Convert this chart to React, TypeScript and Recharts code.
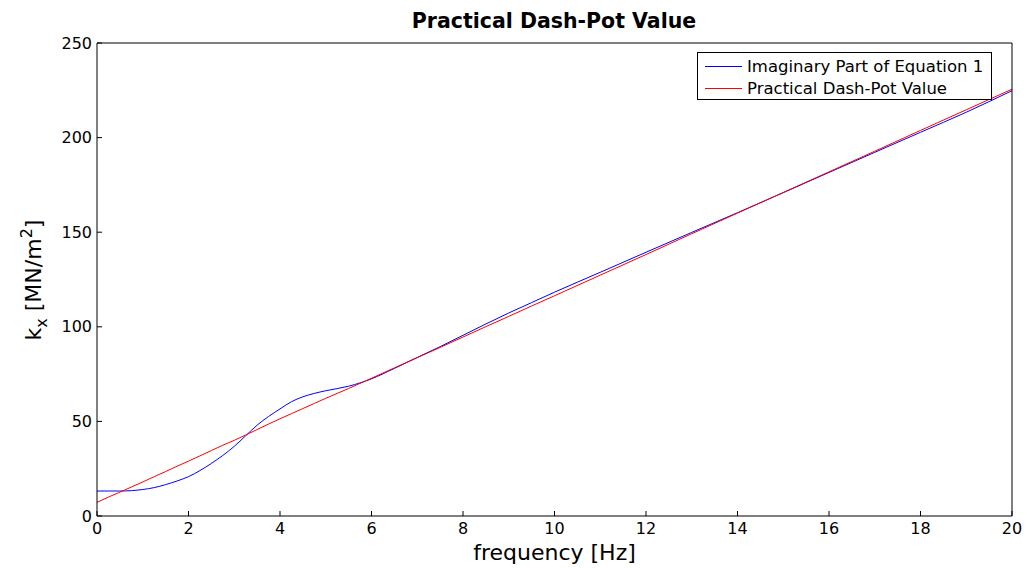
import React from 'react';
import { LineChart, Line, XAxis, YAxis } from 'recharts';

const freq = [0, 0.25, 0.5, 0.75, 1, 1.25, 1.5, 1.75, 2, 2.25, 2.5, 2.75, 3, 3.25, 3.5, 3.75, 4, 4.25, 4.5, 4.75, 5, 5.5, 6, 6.5, 7, 7.5, 8, 8.5, 9, 9.5, 10, 11, 12, 13, 14, 15, 16, 17, 18, 19, 20];
const imaginaryPart = [13.2, 13.2, 13.2, 13.4, 14, 15, 16.6, 18.5, 20.8, 24, 27.8, 32, 36.8, 42.4, 48, 52.6, 56.6, 60.4, 63, 64.8, 66.2, 68.6, 72.5, 78, 83.8, 89.5, 95.5, 101.5, 107.3, 112.8, 118.3, 128.8, 139.4, 149.9, 160.3, 170.9, 181.6, 192.2, 202.8, 213.4, 224.8];
const practicalValue = [7.2, 10.0, 12.6, 15.3, 18.0, 20.8, 23.5, 26.3, 29.0, 31.8, 34.6, 37.4, 40.0, 42.8, 45.7, 48.6, 51.4, 54.1, 56.8, 59.5, 62.2, 67.4, 72.8, 78.3, 83.7, 89.1, 94.6, 100.1, 105.5, 111.0, 116.4, 127.3, 138.2, 149.2, 160.1, 171.0, 181.9, 192.8, 203.8, 214.7, 225.6];
const xTicks = [0, 2, 4, 6, 8, 10, 12, 14, 16, 18, 20];
const yTicks = [0, 50, 100, 150, 200, 250];
const seriesNames = ['Imaginary Part of Equation 1', 'Practical Dash-Pot Value'];
const seriesColors = ['#0000ff', '#ff0000'];
const title = 'Practical Dash-Pot Value';

const data = freq.map((f, i) => ({ f, imag: imaginaryPart[i], prac: practicalValue[i] }));

const FONT = '"DejaVu Sans", sans-serif';

const LegendBox = () => (
  <div
    style={{
      position: 'absolute',
      left: 697,
      top: 52,
      border: '1px solid #000',
      background: '#fff',
      width: 295,
      height: 48,
      boxSizing: 'border-box',
      fontFamily: FONT,
      fontSize: 16.5,
      color: '#000',
      paddingTop: 2,
    }}
  >
    {seriesNames.map((n, i) => (
      <div key={n} style={{ display: 'flex', alignItems: 'center', height: 22, whiteSpace: 'nowrap' }}>
        <svg width={37} height={3} style={{ marginLeft: 7, marginRight: 5 }}>
          <line x1={0} x2={37} y1={1.5} y2={1.5} stroke={seriesColors[i]} strokeWidth={1} />
        </svg>
        <span>{n}</span>
      </div>
    ))}
  </div>
);

export default function App() {
  return (
    <div style={{ position: 'absolute', left: 0, top: 0, width: 1027, height: 568, background: '#fff' }}>
      <LineChart
        width={1027}
        height={568}
        data={data}
        margin={{ top: 13, right: 0, bottom: 0, left: 0 }}
      >
        <text x={554} y={28} textAnchor="middle" fontFamily={FONT} fontWeight="bold" fontSize={20.5} fill="#000">
          {title}
        </text>
        <XAxis
          xAxisId="bottom"
          dataKey="f"
          type="number"
          domain={[0, 20]}
          ticks={xTicks}
          interval={0}
          height={52}
          tickSize={-5}
          tickMargin={12}
          stroke="#000"
          tick={{ fill: '#000', fontSize: 16, fontFamily: FONT }}
          tickLine={{ stroke: '#000' }}
          axisLine={{ stroke: '#000' }}
          label={{ value: 'frequency [Hz]', position: 'insideBottom', offset: 8, fill: '#000', fontSize: 22, fontFamily: FONT }}
        />
        <XAxis
          xAxisId="top"
          dataKey="f"
          type="number"
          orientation="top"
          domain={[0, 20]}
          ticks={xTicks}
          interval={0}
          height={30}
          tickSize={-5}
          tick={false}
          stroke="#000"
          axisLine={{ stroke: '#000' }}
          tickLine={{ stroke: '#000' }}
        />
        <YAxis
          yAxisId="left"
          type="number"
          domain={[0, 250]}
          ticks={yTicks}
          interval={0}
          width={97}
          tickSize={-5}
          tickMargin={10}
          stroke="#000"
          tick={{ fill: '#000', fontSize: 16, fontFamily: FONT }}
          tickLine={{ stroke: '#000' }}
          axisLine={{ stroke: '#000' }}
          label={() => (
            <text
              transform="translate(41, 280) rotate(-90)"
              textAnchor="middle"
              fontFamily={FONT}
              fontSize={22}
              fill="#000"
            >
              <tspan>k</tspan>
              <tspan fontSize={16} dy={6}>x</tspan>
              <tspan dy={-6}> [MN/m</tspan>
              <tspan fontSize={16} dy={-9}>2</tspan>
              <tspan dy={9}>]</tspan>
            </text>
          )}
        />
        <YAxis
          yAxisId="right"
          orientation="right"
          type="number"
          domain={[0, 250]}
          ticks={yTicks}
          interval={0}
          width={15}
          tickSize={-5}
          tick={false}
          stroke="#000"
          axisLine={{ stroke: '#000' }}
          tickLine={{ stroke: '#000' }}
        />
        <Line
          xAxisId="bottom"
          yAxisId="left"
          type="monotone"
          dataKey="imag"
          name={seriesNames[0]}
          stroke={seriesColors[0]}
          strokeWidth={1}
          dot={false}
          isAnimationActive={false}
        />
        <Line
          xAxisId="bottom"
          yAxisId="left"
          type="monotone"
          dataKey="prac"
          name={seriesNames[1]}
          stroke={seriesColors[1]}
          strokeWidth={1}
          dot={false}
          isAnimationActive={false}
        />
      </LineChart>
      <LegendBox />
    </div>
  );
}
